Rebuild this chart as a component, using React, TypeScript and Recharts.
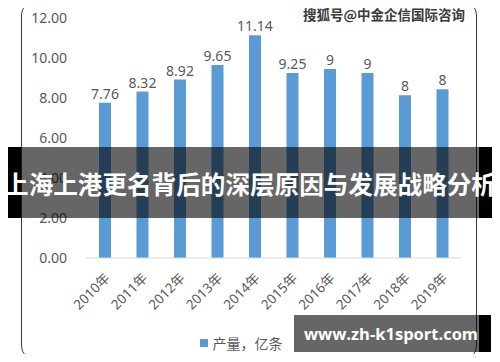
import React from "react"
import { BarChart, Bar, XAxis, YAxis, Legend, LabelList } from "recharts"

const years = ["2010年", "2011年", "2012年", "2013年", "2014年", "2015年", "2016年", "2017年", "2018年", "2019年"]
const output = [7.76, 8.32, 8.92, 9.65, 11.14, 9.25, 9.45, 9.25, 8.14, 8.44]
const valueLabels = ["7.76", "8.32", "8.92", "9.65", "11.14", "9.25", "9", "9", "8", "8"]
const yTicks = [0, 2, 4, 6, 8, 10, 12]
const seriesName = "产量，亿条"
const bannerTitle = "上海上港更名背后的深层原因与发展战略分析"
const topMark = "搜狐号@中金企信国际咨询"
const bottomMark = "www.zh-k1sport.com"

const data = years.map((year, i) => ({ year, output: output[i], label: valueLabels[i] }))

const FONT = "'Noto Sans', 'Noto Sans CJK SC', sans-serif"
const TEXT = "#595959"

function YearTick(props: any) {
  const { x, y, payload } = props
  const ax = x + 6
  const ay = y + 13
  return (
    <text
      x={ax}
      y={ay}
      textAnchor="end"
      fill={TEXT}
      fontSize={13.5}
      fontFamily={FONT}
      transform={`rotate(-45, ${ax}, ${ay})`}
    >
      {payload.value}
    </text>
  )
}

function LegendContent() {
  return (
    <div style={{ display: "flex", justifyContent: "center", alignItems: "center", height: 20, fontFamily: FONT }}>
      <span style={{ width: 8, height: 8, background: "#5b9bd5", marginRight: 5 }} />
      <span style={{ fontSize: 14, color: TEXT }}>{seriesName}</span>
    </div>
  )
}

export default function App() {
  return (
    <div style={{ position: "relative", width: 500, height: 362, margin: -8, background: "#fff", overflow: "hidden" }}>
      {/* black band behind the title */}
      <div style={{ position: "absolute", left: 0, top: 147, width: 500, height: 71, background: "#000", zIndex: 0 }} />
      <div style={{ position: "absolute", left: 21, top: 0, width: 458, height: 362, background: "#fff", zIndex: 1 }}>
        <BarChart width={458} height={362} data={data} margin={{ top: 18, right: 18, left: 0, bottom: 9 }}>
          <YAxis
            width={65}
            domain={[0, 12]}
            ticks={yTicks}
            tickFormatter={(v: number) => v.toFixed(2)}
            axisLine={false}
            tickLine={false}
            tickSize={0}
            tickMargin={19}
            tick={{ fill: TEXT, fontSize: 14, fontFamily: FONT }}
          />
          <XAxis
            dataKey="year"
            height={75}
            interval={0}
            axisLine={{ stroke: "#d9d9d9" }}
            tickLine={false}
            tick={<YearTick />}
          />
          <Legend verticalAlign="bottom" height={20} content={<LegendContent />} />
          <Bar dataKey="output" name={seriesName} fill="#5b9bd5" barSize={12} isAnimationActive={false}>
            <LabelList dataKey="label" position="top" offset={4} fill={TEXT} fontSize={14} fontFamily={FONT} />
          </Bar>
        </BarChart>
      </div>
      <div
        style={{
          position: "absolute",
          left: 21,
          top: 1,
          width: 456,
          height: 359,
          border: "1.5px solid #3a3a3a",
          borderRadius: 14,
          boxSizing: "border-box",
          zIndex: 2,
          pointerEvents: "none",
        }}
      />
      <div style={{ position: "absolute", left: 21, top: 147, width: 458, height: 71, background: "rgba(0,0,0,0.6)", zIndex: 3 }} />
      <div
        style={{
          position: "absolute",
          left: 0,
          top: 147,
          width: 500,
          height: 71,
          zIndex: 4,
          display: "flex",
          alignItems: "center",
          justifyContent: "center",
          color: "#fff",
          fontWeight: 700,
          fontSize: 24.6,
          fontFamily: "'Noto Sans CJK SC', sans-serif",
          whiteSpace: "nowrap",
        }}
      >
        {bannerTitle}
      </div>
      <div
        style={{
          position: "absolute",
          left: 303,
          top: 4,
          zIndex: 4,
          fontSize: 13.5,
          fontWeight: 700,
          color: "#3a3a3a",
          fontFamily: "'Noto Sans CJK SC', sans-serif",
          textShadow: "0 0 1px #fff, 0 0 1px #fff",
          whiteSpace: "nowrap",
        }}
      >
        {topMark}
      </div>
      <div style={{ position: "absolute", left: 294, top: 315, width: 185, height: 37, background: "rgba(0,0,0,0.6)", zIndex: 3 }} />
      <div style={{ position: "absolute", left: 479, top: 315, width: 12, height: 37, background: "#000", zIndex: 3 }} />
      <div
        style={{
          position: "absolute",
          left: 304,
          top: 315,
          height: 37,
          zIndex: 4,
          display: "flex",
          alignItems: "center",
          color: "#fff",
          fontWeight: 700,
          fontSize: 16.5,
          fontFamily: "'Open Sans', 'Noto Sans', sans-serif",
          whiteSpace: "nowrap",
        }}
      >
        {bottomMark}
      </div>
    </div>
  )
}
